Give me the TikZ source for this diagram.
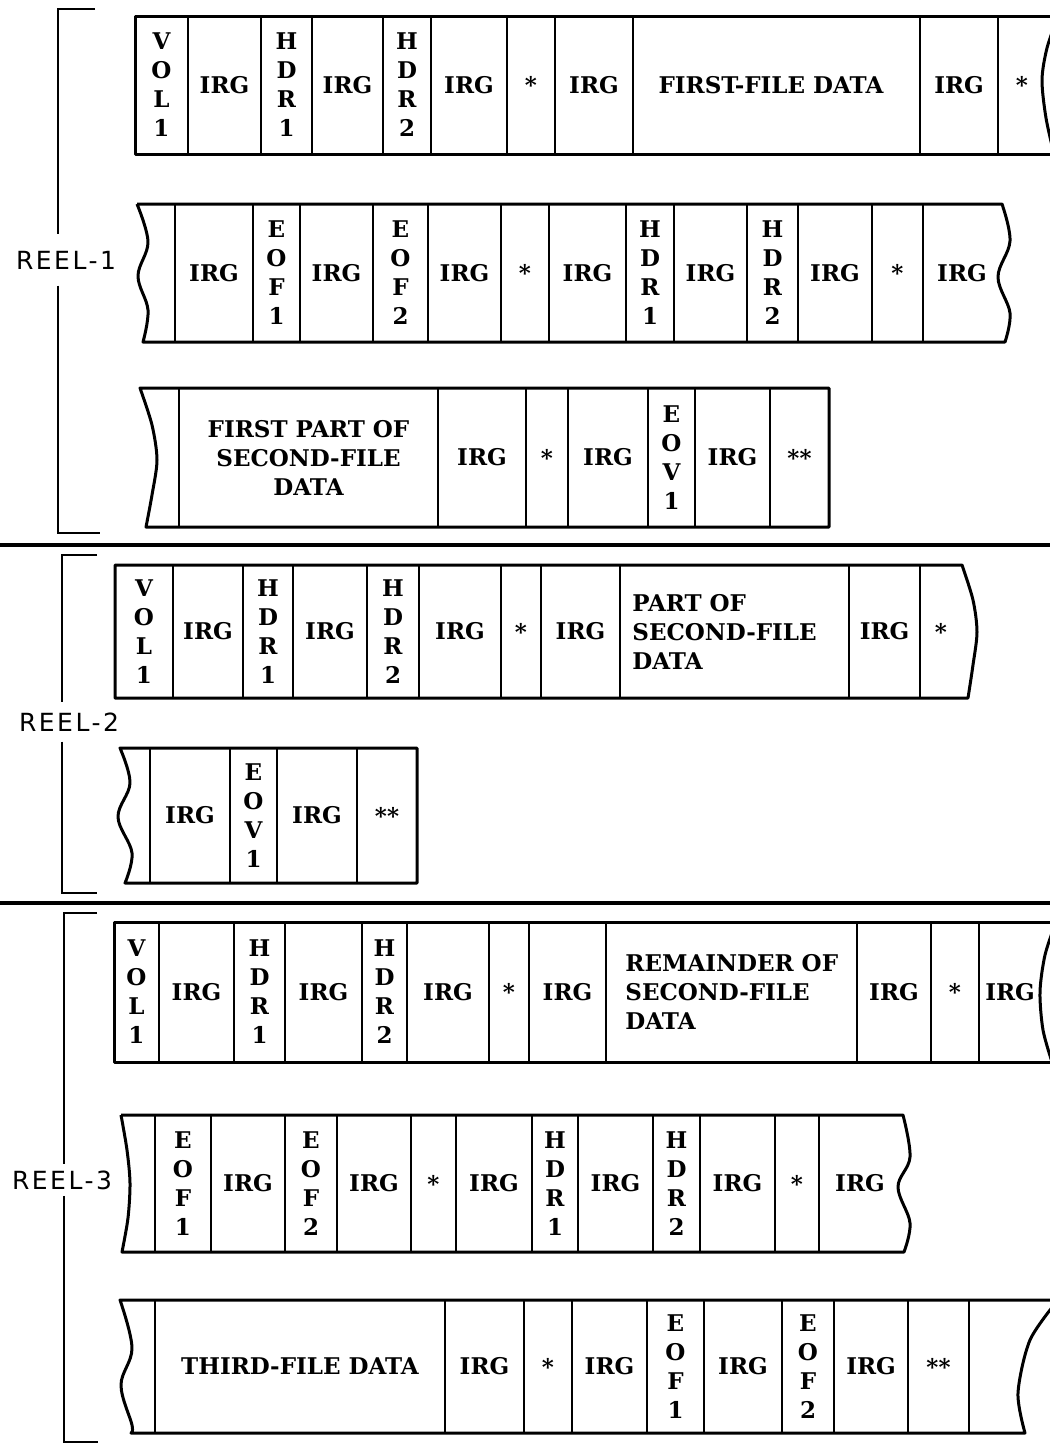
\documentclass[tikz,border=0pt]{standalone}
\usepackage{fontspec}
\setmainfont{DejaVu Serif}
\newfontfamily\reelfont[LetterSpace=10]{DejaVu Sans}
\usetikzlibrary{calc}
\newcommand{\cellfont}{\fontsize{11.5}{14.5}\selectfont\bfseries}
\newcommand{\tapesplits}[3]{\foreach \x in {#1} {
        \draw[split] (\x, #2) -- (\x, #3);
    }
}
\tikzset{
    tape/.style={line width=1.5pt, line join=round},
    split/.style={line width=1.2pt},
    cell/.style={font=\cellfont, inner sep=0pt, align=center},
    reel/.style={font=\reelfont\fontsize{12.5}{14}\selectfont, inner xsep=1pt, inner ysep=5pt},
    rule/.style={line width=1.6pt},
    bracket/.style={line width=1pt}
}

\begin{document}
\begin{tikzpicture}[x=0.5pt, y=-0.5pt]
    \clip (0,0) rectangle (1050,1447);
    \fill[white] (0,0) rectangle (1050,1447);

    % Draw reel separators
    \draw[rule] (0,545) -- (1050,545);
    \draw[rule] (0,903) -- (1050,903);

    % Reel 1, first strip
    \draw[tape] (1060,16) -- (135,16) -- (135,154) -- (1060,154);
    \draw[tape] plot[smooth] coordinates {(1058,16) (1047,48) (1042,80) (1046,118) (1054,154)};
    \tapesplits{188,261,312,383,431,507,555,633,920,998}{16}{154}
    \foreach \x/\t [count=\i] in {161.5/{V\\O\\L\\1}, 224.5/IRG, 286.5/{H\\D\\R\\1}, 347.5/IRG,
        407/{H\\D\\R\\2}, 469/IRG, 531/*, 594/IRG, 771/FIRST-FILE DATA, 959/IRG, 1022/*} {
        \node[cell] (a\i) at (\x, 85) {\t};
    }

    % Reel 1, second strip
    \draw[tape] (137,204) -- (1002,204)
        -- plot[smooth, tension=0.6] coordinates {(1002,204) (1010,241) (998,277) (1010,313) (1005,342)}
        -- (143,342)
        -- plot[smooth, tension=0.6] coordinates {(143,342) (148,310) (138,276) (148,242) (137,204)};
    \tapesplits{175,253,300,373,428,501,549,626,674,747,798,872,923}{204}{342}
    \foreach \x/\t [count=\i] in {214/IRG, 276.5/{E\\O\\F\\1}, 336.5/IRG, 400.5/{E\\O\\F\\2},
        464.5/IRG, 525/*, 587.5/IRG, 650/{H\\D\\R\\1}, 710.5/IRG, 772.5/{H\\D\\R\\2},
        835/IRG, 897.5/*, 962/IRG} {
        \node[cell] (b\i) at (\x, 273) {\t};
    }

    % Reel 1, third strip
    \draw[tape] (829,388) -- (140,388)
        -- plot[smooth] coordinates {(140,388) (152,425) (157,460) (152,495) (146,527)}
        -- (829,527) -- cycle;
    \tapesplits{179,438,526,568,648,695,770}{388}{527}
    \foreach \x/\t [count=\i] in {308.5/{FIRST PART OF\\SECOND-FILE\\DATA}, 482/IRG, 547/*,
        608/IRG, 671.5/{E\\O\\V\\1}, 732.5/IRG, 799.5/**} {
        \node[cell] (c\i) at (\x, 457.5) {\t};
    }

    % Reel 2, first strip
    \draw[tape] (115,565) -- (962,565)
        -- plot[smooth] coordinates {(962,565) (973,600) (977,632) (973,665) (968,698)}
        -- (115,698) -- cycle;
    \tapesplits{173,243,293,367,419,501,541,620,849,920}{565}{698}
    \foreach \x/\t [count=\i] in {144/{V\\O\\L\\1}, 208/IRG, 268/{H\\D\\R\\1}, 330/IRG,
        393/{H\\D\\R\\2}, 460/IRG, 521/*, 580.5/IRG, 884.5/IRG, 941/*} {
        \node[cell] (d\i) at (\x, 631.5) {\t};
    }
    \node[cell, anchor=west, align=left] (dpart) at (632, 631.5) {PART OF\\SECOND-FILE\\DATA};

    % Reel 2, second strip
    \draw[tape] (417,748) -- (120,748)
        -- plot[smooth, tension=0.6] coordinates {(120,748) (130,783) (118,817) (132,853) (125,883)}
        -- (417,883) -- cycle;
    \tapesplits{150,230,277,357}{748}{883}
    \foreach \x/\t [count=\i] in {190/IRG, 253.5/{E\\O\\V\\1}, 317/IRG, 387/**} {
        \node[cell] (e\i) at (\x, 815.5) {\t};
    }

    % Reel 3, first strip
    \draw[tape] (1060,922) -- (114,922) -- (114,1062) -- (1060,1062);
    \draw[tape] plot[smooth] coordinates {(1056,922) (1045,955) (1040,992) (1043,1030) (1052,1062)};
    \tapesplits{159,234,285,362,407,489,529,606,857,931,979}{922}{1062}
    \foreach \x/\t [count=\i] in {136.5/{V\\O\\L\\1}, 196.5/IRG, 259.5/{H\\D\\R\\1}, 323.5/IRG,
        384.5/{H\\D\\R\\2}, 448/IRG, 509/*, 567.5/IRG, 894/IRG, 955/*, 1010/IRG} {
        \node[cell] (f\i) at (\x, 992) {\t};
    }
    \node[cell, anchor=west, align=left] (frest) at (625, 992) {REMAINDER OF\\SECOND-FILE\\DATA};

    % Reel 3, second strip
    \draw[tape] (121,1115) -- (903,1115)
        -- plot[smooth, tension=0.6] coordinates {(903,1115) (910,1157) (898,1187) (910,1223) (904,1252)}
        -- (122,1252)
        -- plot[smooth] coordinates {(122,1252) (128,1218) (130,1183) (127,1150) (121,1115)};
    \tapesplits{155,211,285,337,411,456,532,578,653,700,775,819}{1115}{1252}
    \foreach \x/\t [count=\i] in {183/{E\\O\\F\\1}, 248/IRG, 311/{E\\O\\F\\2}, 374/IRG,
        433.5/*, 494/IRG, 555/{H\\D\\R\\1}, 615.5/IRG, 676.5/{H\\D\\R\\2}, 737.5/IRG,
        797/*, 860/IRG} {
        \node[cell] (g\i) at (\x, 1183.5) {\t};
    }

    % Reel 3, third strip
    \draw[tape] (1060,1300) -- (120,1300)
        -- plot[smooth, tension=0.6] coordinates {(120,1300) (132,1348) (121,1385) (132,1425) (131,1433)}
        -- (1025,1433)
        -- plot[smooth] coordinates {(1025,1433) (1018,1393) (1030,1340) (1058,1300)};
    \tapesplits{155,445,524,572,647,704,782,834,908,969}{1300}{1433}
    \foreach \x/\t [count=\i] in {300/THIRD-FILE DATA, 484.5/IRG, 548/*, 609.5/IRG,
        675.5/{E\\O\\F\\1}, 743/IRG, 808/{E\\O\\F\\2}, 871/IRG, 938.5/**} {
        \node[cell] (h\i) at (\x, 1366.5) {\t};
    }

    % Reel brackets
    \node[reel, inner ysep=8pt] (reel1) at (66,260) {REEL-1};
    \coordinate (b1top) at (58,9);
    \coordinate (b1bot) at (58,533);
    \draw[bracket] (95,9) -- (b1top) -- (b1top |- reel1.north);
    \draw[bracket] (b1bot |- reel1.south) -- (b1bot) -- (100,533);

    \node[reel] (reel2) at (69,722) {REEL-2};
    \coordinate (b2top) at (62,555);
    \coordinate (b2bot) at (62,893);
    \draw[bracket] (97,555) -- (b2top) -- (b2top |- reel2.north);
    \draw[bracket] (b2bot |- reel2.south) -- (b2bot) -- (97,893);

    \node[reel, inner ysep=3pt] (reel3) at (62,1180) {REEL-3};
    \coordinate (b3top) at (64,913);
    \coordinate (b3bot) at (64,1442);
    \draw[bracket] (97,913) -- (b3top) -- (b3top |- reel3.north);
    \draw[bracket] (b3bot |- reel3.south) -- (b3bot) -- (98,1442);
\end{tikzpicture}
\end{document}
